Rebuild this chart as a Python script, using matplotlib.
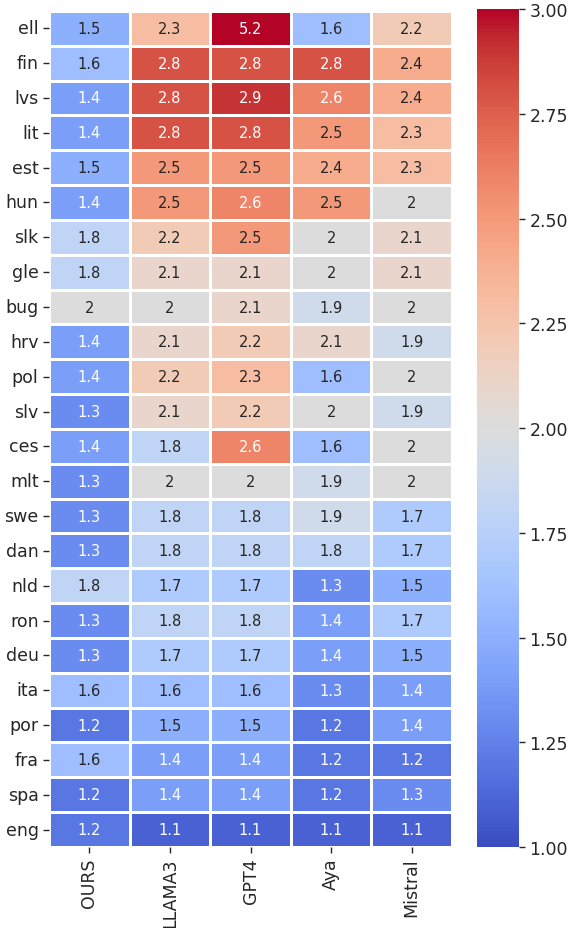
import numpy as np
import pandas as pd
import matplotlib
matplotlib.use("Agg")
import matplotlib.pyplot as plt
import seaborn as sns

plt.rcParams["font.family"] = ["DejaVu Sans"]

LANGS = ["ell", "fin", "lvs", "lit", "est", "hun", "slk", "gle", "bug", "hrv",
         "pol", "slv", "ces", "mlt", "swe", "dan", "nld", "ron", "deu", "ita",
         "por", "fra", "spa", "eng"]
MODELS = ["OURS", "LLAMA3", "GPT4", "Aya", "Mistral"]

ours    = [1.5, 1.6, 1.4, 1.4, 1.5, 1.4, 1.8, 1.8, 2.0, 1.4, 1.4, 1.3, 1.4, 1.3,
           1.3, 1.3, 1.8, 1.3, 1.3, 1.6, 1.2, 1.6, 1.2, 1.2]
llama3  = [2.3, 2.8, 2.8, 2.8, 2.5, 2.5, 2.2, 2.1, 2.0, 2.1, 2.2, 2.1, 1.8, 2.0,
           1.8, 1.8, 1.7, 1.8, 1.7, 1.6, 1.5, 1.4, 1.4, 1.1]
gpt4    = [5.2, 2.8, 2.9, 2.8, 2.5, 2.6, 2.5, 2.1, 2.1, 2.2, 2.3, 2.2, 2.6, 2.0,
           1.8, 1.8, 1.7, 1.8, 1.7, 1.6, 1.5, 1.4, 1.4, 1.1]
aya     = [1.6, 2.8, 2.6, 2.5, 2.4, 2.5, 2.0, 2.0, 1.9, 2.1, 1.6, 2.0, 1.6, 1.9,
           1.9, 1.8, 1.3, 1.4, 1.4, 1.3, 1.2, 1.2, 1.2, 1.1]
mistral = [2.2, 2.4, 2.4, 2.3, 2.3, 2.0, 2.1, 2.1, 2.0, 1.9, 2.0, 1.9, 2.0, 2.0,
           1.7, 1.7, 1.5, 1.7, 1.5, 1.4, 1.4, 1.2, 1.3, 1.1]

df = pd.DataFrame({"OURS": ours, "LLAMA3": llama3, "GPT4": gpt4,
                   "Aya": aya, "Mistral": mistral}, index=LANGS)[MODELS]

fig = plt.figure(figsize=(5.68, 9.29), dpi=100)
ax = fig.add_axes([0.0863, 0.0872, 0.7095, 0.900])
cax = fig.add_axes([0.8398, 0.0872, 0.074, 0.9018])

sns.heatmap(df, ax=ax, cbar_ax=cax, cmap="coolwarm", vmin=1, vmax=3,
            annot=True, fmt=".2g", linewidths=0.8, linecolor="white",
            annot_kws={"fontsize": 10.5})

ax.tick_params(axis="both", labelsize=12.5, colors="#262626", length=4, width=1)
ax.set_yticklabels(LANGS, rotation=0)
ax.set_xticklabels(MODELS, rotation=90)
ax.set_xlabel("")
ax.set_ylabel("")

cax.set_yticks(np.arange(1.0, 3.01, 0.25))
cax.set_yticklabels([f"{t:.2f}" for t in np.arange(1.0, 3.01, 0.25)])
cax.tick_params(labelsize=12.5, colors="#262626", length=4, width=1)

fig.savefig("out.png", dpi=100)
